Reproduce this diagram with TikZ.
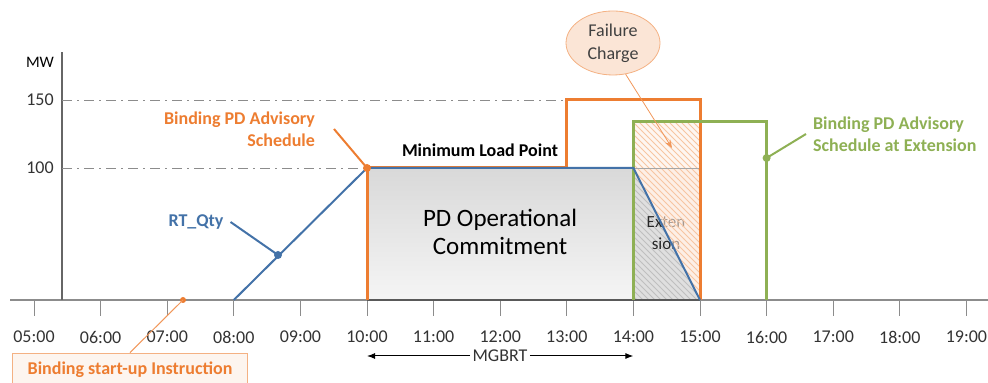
\documentclass[tikz,border=0pt]{standalone}
\usepackage{fontspec}
\setmainfont{Carlito}
\usetikzlibrary{patterns,arrows.meta,shapes.geometric}
\definecolor{pdorange}{RGB}{237,125,49}
\definecolor{rtblue}{RGB}{67,114,168}
\definecolor{extgreen}{RGB}{142,176,84}
\definecolor{peach}{RGB}{251,229,214}
\definecolor{peachline}{RGB}{244,177,131}
\definecolor{axisgray}{RGB}{140,140,140}
\tikzset{
  ticklbl/.style={font=\fontsize{9}{10}\selectfont, text=black!80},
  boldlbl/.style={font=\bfseries\fontsize{9}{11}\selectfont},
  refline/.style={axisgray, dash pattern=on 5pt off 2.5pt on 1pt off 2.5pt},
  dotmark/.style={circle, fill, inner sep=0pt, minimum size=4pt}
}
\begin{document}
\begin{tikzpicture}[x=0.5pt,y=-0.5pt]
  \useasboundingbox (0,0) rectangle (988,383);
  \foreach \i in {0,...,14}{
    \pgfmathtruncatemacro\h{\i+5}
    \coordinate (t\h) at ({34+\i*66.6},300);
    \draw[axisgray] (t\h) -- ++(0,16);
    \node[ticklbl] (lbl\h) at ({34+\i*66.6},337) {\ifnum\h<10 0\fi\h:00};
  }
  \coordinate (ymin) at (62,168);
  \coordinate (ymax) at (62,100);
  \coordinate (yext) at (62,122);
  \draw[axisgray, line width=0.75pt] (10,300) -- (988,300);
  \draw[black!60, line width=1pt] (62,300) -- (62,52);
  \node[font=\fontsize{8}{9}\selectfont] (mw) at (40,62) {MW};
  \node[ticklbl] (v150) at (40,100) {150};
  \node[ticklbl] (v100) at (40,168) {100};
  \draw[refline] (ymax) -- (t13 |- ymax);
  \draw[refline] (ymin) -- (t10 |- ymin);
  \shade[top color=gray!30, bottom color=gray!8] (t10 |- ymin) rectangle (t14);
  \fill[gray!25] (t14) -- (t14 |- ymin) -- (t15) -- cycle;
  \fill[pattern=north west lines, pattern color=gray!50] (t14) -- (t14 |- ymin) -- (t15) -- cycle;
  \node[font=\fontsize{8.5}{11}\selectfont, text=black!85, align=center] (ext) at (666,233) {Exten\\sion};
  \fill[peach, fill opacity=0.6] (t14 |- ymin) -- (t15 |- ymin) -- (t15) -- cycle;
  \fill[peach, fill opacity=0.35] (t14 |- yext) rectangle (t15 |- ymin);
  \fill[pattern=north west lines, pattern color=pdorange!45] (t14 |- yext) -- (t15 |- yext) -- (t15) -- (t14 |- ymin) -- cycle;
  \draw[gray!70] (t14 |- ymin) -- (t15 |- ymin);
  \draw[black!65, line width=1pt] (t10) -- (t15);
  \draw[pdorange, line width=1.5pt] (t10) -- (t10 |- ymin) -- (t13 |- ymin) -- (t13 |- ymax) -- (t15 |- ymax) -- (t15);
  \draw[extgreen, line width=1.5pt] (t14) -- (t14 |- yext) -- (t16 |- yext) -- (t16);
  \draw[rtblue, line width=1pt] (t8) -- (t10 |- ymin) -- (t14 |- ymin) -- (t15);
  \node[font=\fontsize{12.5}{14}\selectfont, align=center] (pdop) at (500,232) {PD Operational\\Commitment};
  \node[boldlbl] (minload) at (480,150) {Minimum Load Point};
  \node[boldlbl, text=pdorange, align=right, anchor=east] (bpdas) at (322,129) {Binding PD Advisory\\Schedule};
  \node[dotmark, pdorange] (bpdasdot) at (t10 |- ymin) {};
  \draw[pdorange, line width=1pt] ([xshift=6]bpdas.east) -- (bpdasdot.center);
  \node[boldlbl, text=rtblue] (rtqty) at (196,222) {RT\_Qty};
  \node[dotmark, rtblue] (rtdot) at (278,255) {};
  \draw[rtblue, line width=1pt] (rtqty.east) -- (rtdot.center);
  \node[boldlbl, text=extgreen, align=left, anchor=west] (bpdase) at (806,134) {Binding PD Advisory\\Schedule at Extension};
  \node[dotmark, extgreen] (extdot) at (t16 |- 0,158) {};
  \draw[extgreen, line width=1pt] (bpdase.west) -- (extdot.center);
  \node[ellipse, draw=peachline, fill=peach, minimum width=47pt, minimum height=32pt, inner sep=0pt,
        font=\fontsize{9}{11.5}\selectfont, text=black!75, align=center] (fail) at (613,43) {Failure\\Charge};
  \coordinate (failtip) at (672,148);
  \draw[pdorange!80, line width=0.4pt, -{Stealth[length=4pt]}] (fail.-68) -- (failtip);
  \node[draw=peachline, fill=peach!40, boldlbl, text=pdorange, minimum width=117.5pt, minimum height=17pt] (bsu) at (130,370) {Binding start-up Instruction};
  \node[dotmark, pdorange, minimum size=3pt] (bsudot) at (183,300) {};
  \draw[pdorange!80, line width=0.5pt] (bsu.north) -- (bsudot.center);
  \node[ticklbl, inner sep=1pt] (mgbrt) at (500,356) {MGBRT};
  \draw[-{Latex[length=4pt]}, line width=0.5pt] (mgbrt.west) -- (t10 |- mgbrt);
  \draw[-{Latex[length=4pt]}, line width=0.5pt] (mgbrt.east) -- (t14 |- mgbrt);
\end{tikzpicture}
\end{document}
